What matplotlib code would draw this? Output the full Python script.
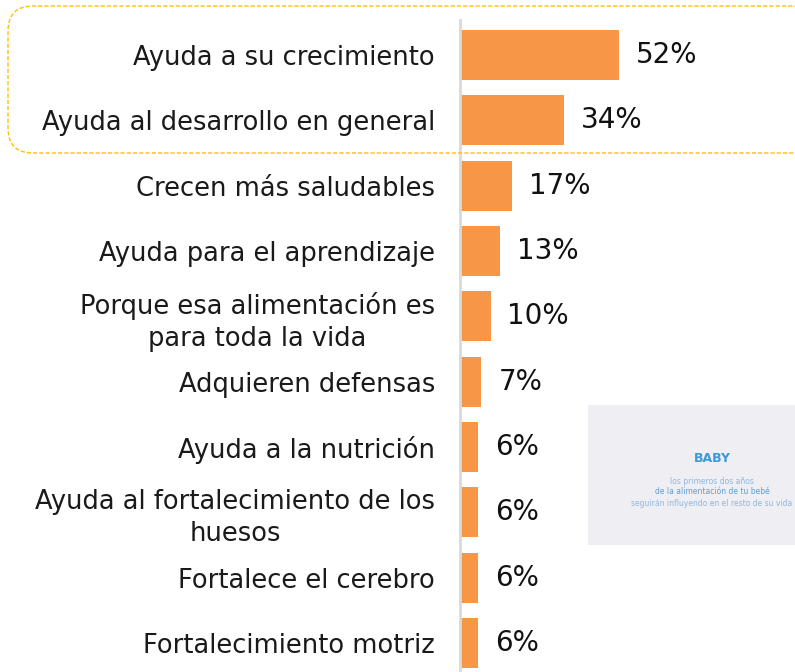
import matplotlib.pyplot as plt
from matplotlib.patches import FancyBboxPatch, Rectangle
from matplotlib.transforms import IdentityTransform

# datos
categorias = [
    "Ayuda a su crecimiento",
    "Ayuda al desarrollo en general",
    "Crecen más saludables",
    "Ayuda para el aprendizaje",
    "Porque esa alimentación es\npara toda la vida",
    "Adquieren defensas",
    "Ayuda a la nutrición",
    "Ayuda al fortalecimiento de los\nhuesos",
    "Fortalece el cerebro",
    "Fortalecimiento motriz",
]
valores = [52, 34, 17, 13, 10, 7, 6, 6, 6, 6]
etiquetas = ["52%", "34%", "17%", "13%", "10%", "7%", "6%", "6%", "6%", "6%"]

plt.rcParams['font.family'] = ['DejaVu Sans']

W, H = 795, 672
fig = plt.figure(figsize=(W / 100, H / 100), dpi=100)

# eje: de x=460 px hasta el borde derecho
ax = fig.add_axes([460 / W, 0, (W - 460) / W, 1])
px_por_pct = 3.05
ax.set_xlim(0, (W - 460) / px_por_pct)
paso = 65.33
ymax = 9 + (H - 643) / paso
ax.set_ylim(ymax, -55 / paso)

y = list(range(len(categorias)))
ax.barh(y, valores, height=0.77, color="#F79646", zorder=3)

for yi, v, t in zip(y, valores, etiquetas):
    ax.annotate(t, (v, yi), xytext=(17, 0), textcoords="offset pixels",
                va="center", ha="left", fontsize=20, color="#111111")

ax.set_yticks(y)
ax.set_yticklabels(categorias, fontsize=18.5, color="#1a1a1a", linespacing=1.3)
for lbl in ax.get_yticklabels():
    lbl.set_horizontalalignment("right")
    lbl.set_multialignment("center")
ax.tick_params(axis="y", length=0, pad=18)
ax.tick_params(axis="x", bottom=False, labelbottom=False)
for s in ["top", "right", "bottom"]:
    ax.spines[s].set_visible(False)
ax.spines["left"].set_color("#d9d9d9")
ax.spines["left"].set_linewidth(2)
ax.spines["left"].set_zorder(4)
ax.spines["left"].set_bounds(-35 / paso, ymax)
ax.set_facecolor("none")

# recuadro punteado de los dos primeros (coordenadas en pixeles)
caja = FancyBboxPatch((8, H - 153), 810, 147,
                      boxstyle="round,pad=0,rounding_size=25",
                      transform=IdentityTransform(), fill=False,
                      edgecolor="#FFC000", linestyle=(0, (3, 1.5)), linewidth=1.0,
                      clip_on=False, zorder=0)
fig.patches.append(caja)

# imagen del producto (aproximación)
fig.patches.append(Rectangle((588 / W, 1 - 545 / H), (W - 588) / W, 140 / H,
                             transform=fig.transFigure, facecolor="#eeeef3",
                             edgecolor="none"))
fig.text(712 / W, 1 - 458 / H, "BABY", color="#3a9ad9", fontsize=9,
         fontweight="bold", ha="center", va="center")
fig.text(712 / W, 1 - 481 / H, "los primeros dos años", color="#8fb8dd",
         fontsize=5.5, ha="center", va="center")
fig.text(712 / W, 1 - 492 / H, "de la alimentación de tu bebé", color="#5d9fd6",
         fontsize=5.5, ha="center", va="center")
fig.text(712 / W, 1 - 503 / H, "seguirán influyendo en el resto de su vida",
         color="#8fb8dd", fontsize=5.5, ha="center", va="center")

fig.savefig("out.png", dpi=100)
